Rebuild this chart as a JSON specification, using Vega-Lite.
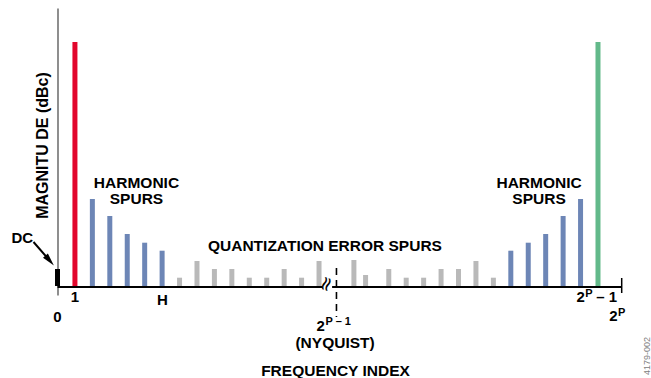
{
  "$schema": "https://vega.github.io/schema/vega-lite/v6.json",
  "autosize": "none",
  "width": 564.2,
  "height": 287,
  "padding": {"left": 57.5, "top": 8, "right": 29.3, "bottom": 83},
  "config": {
    "font": "Liberation Sans",
    "view": {"stroke": null},
    "axis": {"grid": false, "ticks": false, "labels": false}
  },
  "datasets": {
    "bars": [
      {"x": 0, "h": 17, "g": "dc"},
      {"x": 1, "h": 244, "g": "fund"},
      {"x": 2, "h": 87, "g": "harm"},
      {"x": 3, "h": 70, "g": "harm"},
      {"x": 4, "h": 52, "g": "harm"},
      {"x": 5, "h": 43.3, "g": "harm"},
      {"x": 6, "h": 35.3, "g": "harm"},
      {"x": 7, "h": 8.3, "g": "quant"},
      {"x": 8, "h": 25, "g": "quant"},
      {"x": 9, "h": 17, "g": "quant"},
      {"x": 10, "h": 17, "g": "quant"},
      {"x": 11, "h": 8.3, "g": "quant"},
      {"x": 12, "h": 8.3, "g": "quant"},
      {"x": 13, "h": 17, "g": "quant"},
      {"x": 14, "h": 8.3, "g": "quant"},
      {"x": 15, "h": 25, "g": "quant"},
      {"x": 17, "h": 26, "g": "quant"},
      {"x": 17.67, "h": 11, "g": "quant"},
      {"x": 19, "h": 17, "g": "quant"},
      {"x": 20, "h": 8.3, "g": "quant"},
      {"x": 21, "h": 8.3, "g": "quant"},
      {"x": 22, "h": 17, "g": "quant"},
      {"x": 23, "h": 17, "g": "quant"},
      {"x": 24, "h": 25, "g": "quant"},
      {"x": 25, "h": 8.3, "g": "quant"},
      {"x": 26, "h": 35.3, "g": "harm"},
      {"x": 27, "h": 43.3, "g": "harm"},
      {"x": 28, "h": 52, "g": "harm"},
      {"x": 29, "h": 70, "g": "harm"},
      {"x": 30, "h": 87, "g": "harm"},
      {"x": 31, "h": 244, "g": "image"}
    ],
    "baseline": [
      {"x": 0, "x2": 15.2, "y": -1},
      {"x": 15.75, "x2": 32.36, "y": -1}
    ],
    "nyquist": [{"x": 16, "y": 18, "y2": -31}],
    "endtick": [{"x": 32.36, "y": 8, "y2": -7}],
    "arrow": [{"x": -1.376, "y": 44, "x2": -0.51, "y2": 26.7}],
    "arrowhead": [{"x": -0.51, "y": 26.7}],
    "biglabels": [
      {"x": 4.53, "y": 102.7, "t": "HARMONIC|SPURS"},
      {"x": 27.62, "y": 102.7, "t": "HARMONIC|SPURS"},
      {"x": 15.34, "y": 40.2, "t": "QUANTIZATION ERROR SPURS"},
      {"x": 15.92, "y": -57.3, "t": "(NYQUIST)"}
    ],
    "ticklabels": [
      {"x": 1, "y": -11.2, "t": "1"},
      {"x": 6.02, "y": -14, "t": "H"},
      {"x": 0, "y": -31.2, "t": "0"},
      {"x": 30.0, "y": -11.2, "t": "2"},
      {"x": 31.5, "y": -11.2, "t": "– 1"},
      {"x": 31.88, "y": -30.3, "t": "2"},
      {"x": 15.1, "y": -40, "t": "2"},
      {"x": -2.02, "y": 48, "t": "DC"}
    ],
    "superscripts": [
      {"x": 30.48, "y": -7.7, "t": "P"},
      {"x": 32.36, "y": -27.3, "t": "P"},
      {"x": 16.1, "y": -35.5, "t": "P – 1"}
    ],
    "squiggle": [{"x": 15.43, "y": 2, "t": "≈"}],
    "figid": [{"x": 33.8, "y": -70, "t": "4179-002"}]
  },
  "layer": [
    {
      "data": {"name": "bars"},
      "mark": {"type": "bar", "size": 5},
      "encoding": {
        "x": {
          "field": "x", "type": "quantitative",
          "scale": {"domain": [0, 32.36], "nice": false, "zero": false, "padding": 0},
          "axis": {
            "domain": false,
            "title": "FREQUENCY INDEX",
            "titleFont": "Liberation Sans",
            "titleFontSize": 15.5,
            "titleFontWeight": "bold",
            "titleColor": "#000000",
            "titlePadding": 68,
            "titleX": 277.5
          }
        },
        "y": {
          "field": "h", "type": "quantitative",
          "scale": {"domain": [-9, 278], "nice": false, "zero": false, "padding": 0},
          "axis": {
            "domain": true,
            "domainColor": "#444444",
            "domainWidth": 1.2,
            "title": "MAGNITU DE (dBc)",
            "titleFont": "Liberation Sans",
            "titleFontSize": 16,
            "titleFontWeight": "bold",
            "titleColor": "#000000",
            "titlePadding": 7,
            "titleY": 137
          }
        },
        "y2": {"datum": 0},
        "color": {
          "field": "g", "type": "nominal",
          "scale": {
            "domain": ["dc", "fund", "harm", "quant", "image"],
            "range": ["#000000", "#e2062c", "#6d86b6", "#b9b9b9", "#63b98a"]
          },
          "legend": null
        }
      }
    },
    {
      "data": {"name": "baseline"},
      "mark": {"type": "rule", "color": "#000000", "strokeWidth": 2},
      "encoding": {
        "x": {"field": "x", "type": "quantitative"},
        "x2": {"field": "x2"},
        "y": {"field": "y", "type": "quantitative"}
      }
    },
    {
      "data": {"name": "nyquist"},
      "mark": {"type": "rule", "color": "#000000", "strokeWidth": 1.6, "strokeDash": [7, 5]},
      "encoding": {
        "x": {"field": "x", "type": "quantitative"},
        "y": {"field": "y", "type": "quantitative"},
        "y2": {"field": "y2"}
      }
    },
    {
      "data": {"name": "endtick"},
      "mark": {"type": "rule", "color": "#000000", "strokeWidth": 1.5},
      "encoding": {
        "x": {"field": "x", "type": "quantitative"},
        "y": {"field": "y", "type": "quantitative"},
        "y2": {"field": "y2"}
      }
    },
    {
      "data": {"name": "arrow"},
      "mark": {"type": "rule", "color": "#000000", "strokeWidth": 2},
      "encoding": {
        "x": {"field": "x", "type": "quantitative"},
        "x2": {"field": "x2"},
        "y": {"field": "y", "type": "quantitative"},
        "y2": {"field": "y2"}
      }
    },
    {
      "data": {"name": "arrowhead"},
      "mark": {"type": "point", "shape": "M0,-1L0.4,0.6L-0.4,0.6Z", "filled": true, "color": "#000000", "opacity": 1, "size": 260, "angle": 139},
      "encoding": {
        "x": {"field": "x", "type": "quantitative"},
        "y": {"field": "y", "type": "quantitative"}
      }
    },
    {
      "data": {"name": "biglabels"},
      "mark": {"type": "text", "font": "Liberation Sans", "fontWeight": "bold", "fontSize": 15.5, "lineBreak": "|", "lineHeight": 15.5, "align": "center", "baseline": "middle", "color": "#000000"},
      "encoding": {
        "x": {"field": "x", "type": "quantitative"},
        "y": {"field": "y", "type": "quantitative"},
        "text": {"field": "t"}
      }
    },
    {
      "data": {"name": "ticklabels"},
      "mark": {"type": "text", "font": "Liberation Sans", "fontWeight": "bold", "fontSize": 15, "align": "center", "baseline": "middle", "color": "#000000"},
      "encoding": {
        "x": {"field": "x", "type": "quantitative"},
        "y": {"field": "y", "type": "quantitative"},
        "text": {"field": "t"}
      }
    },
    {
      "data": {"name": "superscripts"},
      "mark": {"type": "text", "font": "Liberation Sans", "fontWeight": "bold", "fontSize": 11, "align": "center", "baseline": "middle", "color": "#000000"},
      "encoding": {
        "x": {"field": "x", "type": "quantitative"},
        "y": {"field": "y", "type": "quantitative"},
        "text": {"field": "t"}
      }
    },
    {
      "data": {"name": "squiggle"},
      "mark": {"type": "text", "font": "DejaVu Sans", "fontSize": 20, "angle": 290, "align": "center", "baseline": "middle", "color": "#000000"},
      "encoding": {
        "x": {"field": "x", "type": "quantitative"},
        "y": {"field": "y", "type": "quantitative"},
        "text": {"field": "t"}
      }
    },
    {
      "data": {"name": "figid"},
      "mark": {"type": "text", "font": "Liberation Sans", "fontSize": 9, "angle": 270, "align": "center", "baseline": "middle", "color": "#808080"},
      "encoding": {
        "x": {"field": "x", "type": "quantitative"},
        "y": {"field": "y", "type": "quantitative"},
        "text": {"field": "t"}
      }
    }
  ]
}
